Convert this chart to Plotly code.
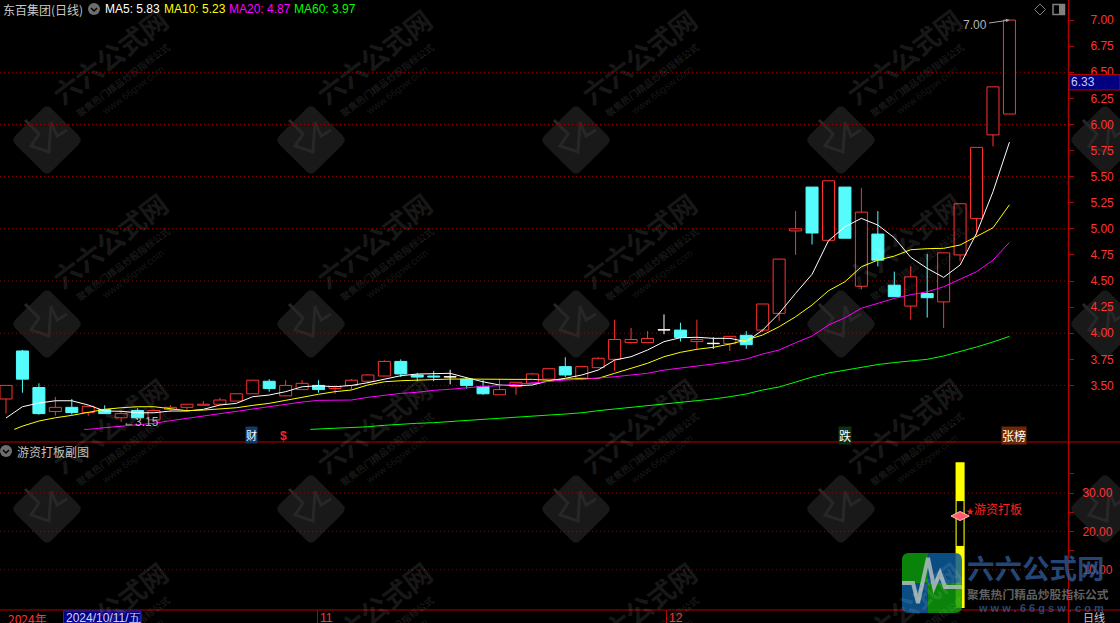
import plotly.graph_objects as go

W, H = 1120, 623

open_ = [3.37,3.83,3.48,3.25,3.29,3.24,3.27,3.19,3.26,3.17,3.27,3.29,3.31,3.32,3.35,3.42,3.54,3.40,3.46,3.50,3.47,3.50,3.54,3.59,3.73,3.60,3.59,3.58,3.56,3.49,3.41,3.49,3.52,3.56,3.68,3.57,3.67,3.75,3.91,3.91,4.03,4.03,3.92,3.90,3.90,3.98,4.03,4.19,4.98,5.40,4.89,5.40,4.45,4.95,4.46,4.26,4.38,4.30,4.75,5.10,5.90,6.10]
high_ = [3.50,3.84,3.52,3.39,3.37,3.30,3.31,3.26,3.28,3.27,3.31,3.32,3.35,3.38,3.42,3.55,3.56,3.55,3.55,3.55,3.50,3.56,3.61,3.74,3.75,3.62,3.64,3.65,3.58,3.55,3.56,3.53,3.62,3.66,3.77,3.68,3.77,4.13,4.05,4.02,4.18,4.10,4.13,3.96,3.97,4.02,4.28,4.71,5.17,5.40,5.46,5.40,5.39,5.17,4.59,4.64,4.76,4.77,5.24,5.78,6.36,7.00]
low_ = [3.23,3.43,3.22,3.21,3.22,3.21,3.23,3.15,3.17,3.17,3.25,3.26,3.31,3.31,3.35,3.42,3.44,3.40,3.46,3.43,3.42,3.46,3.52,3.59,3.58,3.54,3.54,3.51,3.47,3.41,3.41,3.41,3.52,3.56,3.58,3.55,3.67,3.64,3.90,3.91,3.99,3.92,3.85,3.85,3.83,3.85,4.01,4.12,4.75,4.85,4.89,4.91,4.42,4.64,4.35,4.13,4.15,4.05,4.69,4.94,5.79,6.10]
close_ = [3.50,3.56,3.23,3.29,3.24,3.30,3.23,3.23,3.19,3.26,3.29,3.32,3.32,3.36,3.42,3.55,3.47,3.50,3.52,3.46,3.49,3.55,3.60,3.73,3.61,3.58,3.58,3.58,3.50,3.42,3.46,3.53,3.61,3.66,3.60,3.68,3.76,3.94,3.94,3.95,4.03,3.96,3.94,3.90,3.97,3.89,4.28,4.71,5.00,4.96,5.46,4.91,5.16,4.70,4.35,4.54,4.34,4.77,5.24,5.78,6.36,7.00]

ma5 = [3.188,3.296,3.331,3.353,3.353,3.312,3.255,3.252,3.238,3.238,3.255,3.255,3.271,3.312,3.328,3.392,3.408,3.44,3.487,3.497,3.487,3.50,3.526,3.558,3.593,3.609,3.616,3.616,3.574,3.535,3.504,3.497,3.504,3.545,3.568,3.60,3.647,3.743,3.775,3.839,3.919,3.957,3.961,3.951,3.951,3.919,4.03,4.19,4.382,4.564,4.886,5.02,5.10,5.036,4.915,4.727,4.621,4.535,4.653,4.957,5.355,5.83]
ma10_x = [0.5] + list(range(1, 62))
ma10 = [3.079,3.11,3.159,3.19,3.213,3.242,3.271,3.286,3.296,3.296,3.274,3.258,3.264,3.274,3.286,3.309,3.328,3.357,3.389,3.415,3.44,3.456,3.504,3.535,3.545,3.552,3.558,3.561,3.561,3.558,3.558,3.558,3.558,3.549,3.561,3.561,3.568,3.616,3.664,3.712,3.775,3.817,3.846,3.865,3.896,3.935,3.983,4.062,4.158,4.27,4.407,4.493,4.637,4.70,4.739,4.80,4.81,4.813,4.845,4.925,5.01,5.23]
ma20_x = [4.75] + list(range(5, 62))
ma20 = [3.079,3.079,3.095,3.11,3.12,3.137,3.162,3.185,3.207,3.226,3.248,3.271,3.296,3.322,3.341,3.357,3.357,3.36,3.386,3.408,3.424,3.434,3.453,3.463,3.478,3.491,3.497,3.51,3.523,3.542,3.552,3.558,3.568,3.583,3.60,3.616,3.647,3.664,3.686,3.705,3.727,3.753,3.801,3.839,3.909,3.973,4.078,4.148,4.239,4.286,4.334,4.369,4.397,4.445,4.516,4.589,4.70,4.87]
ma60_x = [18.5] + list(range(19, 62))
ma60 = [3.079,3.082,3.089,3.098,3.104,3.118,3.13,3.137,3.143,3.152,3.159,3.175,3.185,3.194,3.20,3.216,3.226,3.238,3.258,3.274,3.293,3.303,3.319,3.338,3.353,3.37,3.392,3.418,3.456,3.485,3.532,3.58,3.619,3.647,3.676,3.70,3.719,3.734,3.75,3.782,3.823,3.868,3.916,3.97]

price_ticks = [3.5,3.75,4.0,4.25,4.5,4.75,5.0,5.25,5.5,5.75,6.0,6.25,6.5,6.75,7.0]
price_labels = ["3.50","3.75","4.00","4.25","4.50","4.75","5.00","5.25","5.50","5.75","6.00","6.25","6.50","6.75","7.00"]
grid_prices = [3.5,4.0,4.5,5.0,5.5,6.0,6.5]
sub_ticks = [10,15,20,25,30,35]
sub_labels = ["10.00","","20.00","","30.00",""]
sub_grid = [10,20,30]

signal_x = [58]
signal_top = [38.0]
signal_box_low = [16.2]
signal_box_high = [27.9]
gem_value = [24.0]

RED = "#ff3232"
CYAN = "#54fcfc"
WHITE = "#ffffff"
AX = "#b40000"
GRID = "#a00000"
MARK = "rgba(255,255,255,0.10)"
CJK = "Noto Sans CJK SC"
LAT = "Liberation Sans"

def px(x): return x / W
def py(y): return 1 - y / H
AX_X = 1068
SPLIT = 442
BOT = 610
X_RANGE = [-0.365, 64.56]

fig = go.Figure()

idx = list(range(len(close_)))
groups = {
    RED: [i for i in idx if close_[i] > open_[i]],
    CYAN: [i for i in idx if close_[i] < open_[i]],
    WHITE: [i for i in idx if close_[i] == open_[i]],
}
FILL = {RED: "#000000", CYAN: CYAN, WHITE: WHITE}

for col, ii in groups.items():
    fig.add_trace(go.Bar(
        x=ii,
        base=[min(open_[i], close_[i]) for i in ii],
        y=[max(abs(close_[i] - open_[i]), 0.004) for i in ii],
        width=0.73,
        marker=dict(color=FILL[col], line=dict(color=col, width=1)),
        xaxis="x", yaxis="y", hoverinfo="skip", showlegend=False))
    wx, wy = [], []
    for i in ii:
        top, bot = max(open_[i], close_[i]), min(open_[i], close_[i])
        if high_[i] > top:
            wx += [i, i, None]; wy += [top, high_[i], None]
        if low_[i] < bot:
            wx += [i, i, None]; wy += [bot, low_[i], None]
    fig.add_trace(go.Scatter(x=wx, y=wy, mode="lines", line=dict(color=col, width=1),
                             xaxis="x", yaxis="y", hoverinfo="skip", showlegend=False))

for xs, ys, col in [(idx, ma5, "#ffffff"), (ma10_x, ma10, "#ffff00"), (ma20_x, ma20, "#ff00ff"), (ma60_x, ma60, "#00ff00")]:
    fig.add_trace(go.Scatter(x=xs, y=ys, mode="lines", line=dict(color=col, width=1),
                             xaxis="x", yaxis="y", hoverinfo="skip", showlegend=False))

fig.add_trace(go.Bar(x=signal_x, y=signal_top, width=0.55, marker=dict(color="#ffff00", line=dict(width=0)),
                     xaxis="x2", yaxis="y2", hoverinfo="skip", showlegend=False))
fig.add_trace(go.Bar(x=signal_x, y=[signal_box_high[0] - signal_box_low[0]], base=signal_box_low, width=0.42,
                     marker=dict(color="#000000", line=dict(width=0)),
                     xaxis="x2", yaxis="y2", hoverinfo="skip", showlegend=False))
fig.add_trace(go.Scatter(x=signal_x, y=gem_value, mode="markers",
                         marker=dict(symbol="diamond-wide", size=13, color="#ff5a6e", line=dict(color="#ffc0c8", width=1)),
                         xaxis="x2", yaxis="y2", hoverinfo="skip", showlegend=False))

shapes = []

def poly_rounded(pts, t=0.13):
    d = ""
    n = len(pts)
    for i in range(n):
        c = pts[i]; a = pts[i - 1]; b = pts[(i + 1) % n]
        s = (c[0] + t * (a[0] - c[0]), c[1] + t * (a[1] - c[1]))
        e = (c[0] + t * (b[0] - c[0]), c[1] + t * (b[1] - c[1]))
        d += f"{'M' if i == 0 else 'L'}{px(s[0]):.5f},{py(s[1]):.5f} Q{px(c[0]):.5f},{py(c[1]):.5f} {px(e[0]):.5f},{py(e[1]):.5f} "
    return d + "Z"

def polyline(pts):
    return " ".join(f"{'M' if i == 0 else 'L'}{px(p[0]):.5f},{py(p[1]):.5f}" for i, p in enumerate(pts))

annotations = []

def text(x, y, s, color, size, anchor="left", family=CJK, **kw):
    annotations.append(dict(x=px(x), y=py(y), xref="paper", yref="paper", text=s, showarrow=False,
                            xanchor=anchor, yanchor="middle", font=dict(color=color, size=size, family=family),
                            borderpad=0, **kw))

# repeating watermark
for cy in (140, 324, 509, 693):
    for cx in (47, 311, 576, 841, 1105):
        if cy < 623:
            r = 36
            shapes.append(dict(type="path", path=poly_rounded([(cx, cy - r), (cx + r, cy), (cx, cy + r), (cx - r, cy)]),
                               xref="paper", yref="paper", fillcolor="#191919", line=dict(width=0), layer="below"))
            shapes.append(dict(type="path",
                               path=polyline([(cx - 22, cy - 20), (cx - 8, cy - 6), (cx - 16, cy + 6), (cx + 2, cy + 12),
                                              (cx + 4, cy - 18), (cx + 10, cy - 4), (cx + 20, cy - 10)]),
                               xref="paper", yref="paper", line=dict(color="#272727", width=3), layer="below"))
        if cx > 1000:
            continue
        for dx, dy, s, size, fam in ((62, -84, "<b>六六公式网</b>", 27, CJK),
                                     (76, -60, "<b>聚焦热门精品炒股指标公式</b>", 9.5, CJK),
                                     (85, -50, "www.66gsw.com", 10, LAT)):
            annotations.append(dict(x=px(cx + dx), y=py(cy + dy), xref="paper", yref="paper", text=s, showarrow=False,
                                    xanchor="center", yanchor="middle", textangle=-37,
                                    font=dict(color=MARK, size=size, family=fam)))

# dotted grid
for g in grid_prices:
    shapes.append(dict(type="line", xref="x", yref="y", x0=X_RANGE[0], x1=X_RANGE[1], y0=g, y1=g,
                       line=dict(color=GRID, width=1, dash="1px,3px"), layer="below"))
for g in sub_grid:
    shapes.append(dict(type="line", xref="x2", yref="y2", x0=X_RANGE[0], x1=X_RANGE[1] - 0.2, y0=g, y1=g,
                       line=dict(color=GRID, width=1, dash="1px,3px"), layer="below"))

# frame
shapes.append(dict(type="line", xref="paper", yref="paper", x0=0, x1=1, y0=py(SPLIT), y1=py(SPLIT), line=dict(color=AX, width=1.2)))
shapes.append(dict(type="line", xref="paper", yref="paper", x0=0, x1=1, y0=py(BOT), y1=py(BOT), line=dict(color=AX, width=1.2)))
shapes.append(dict(type="line", xref="paper", yref="paper", x0=px(AX_X + .5), x1=px(AX_X + .5), y0=0, y1=1, line=dict(color=AX, width=1.2)))
for x in (317.5, 666.5):
    shapes.append(dict(type="line", xref="paper", yref="paper", x0=px(x), x1=px(x), y0=0, y1=py(BOT), line=dict(color=AX, width=1)))

# current price box
shapes.append(dict(type="rect", xref="paper", yref="paper", x0=px(1069), x1=1, y0=py(90), y1=py(74.5),
                   fillcolor="#000080", line=dict(color=AX, width=1)))
# date box
shapes.append(dict(type="rect", xref="paper", yref="paper", x0=px(63.5), x1=px(141), y0=0, y1=py(611),
                   fillcolor="#000080", line=dict(color="#2020c0", width=1)))

# title icons
for cx, cy in ((94, 9), (6, 451)):
    shapes.append(dict(type="circle", xref="paper", yref="paper", x0=px(cx - 6), x1=px(cx + 6), y0=py(cy + 6), y1=py(cy - 6),
                       fillcolor="#6e6e6e", line=dict(width=0)))
    shapes.append(dict(type="path", path=polyline([(cx - 3, cy - 1), (cx, cy + 2), (cx + 3, cy - 1)]),
                       xref="paper", yref="paper", line=dict(color="#000000", width=1.5)))
shapes.append(dict(type="path", path=polyline([(1040, 4), (1045.5, 9.5), (1040, 15), (1034.5, 9.5), (1040, 4)]),
                   xref="paper", yref="paper", line=dict(color="#808080", width=1)))
shapes.append(dict(type="rect", xref="paper", yref="paper", x0=px(1053), x1=px(1064.5), y0=py(14.5), y1=py(4.5),
                   line=dict(color="#808080", width=1.5), fillcolor="#000000"))
shapes.append(dict(type="rect", xref="paper", yref="paper", x0=px(1059), x1=px(1064), y0=py(14), y1=py(5),
                   line=dict(width=0), fillcolor="#808080"))

# logo
lx0, lx1, ly0, ly1, lxm, lym = 902, 962, 553, 613, 928, 583
logo_op = 0.85
rc = 7
def quad(pts, col, corner):
    d = ""
    for i, p in enumerate(pts):
        if i == corner:
            a = pts[i - 1]; b = pts[(i + 1) % 4]
            def toward(q):
                sx = (q[0] > p[0]) - (q[0] < p[0]); sy = (q[1] > p[1]) - (q[1] < p[1])
                return (p[0] + sx * rc, p[1] + sy * rc)
            s, e = toward(a), toward(b)
            d += f"{'M' if i == 0 else 'L'}{px(s[0]):.5f},{py(s[1]):.5f} Q{px(p[0]):.5f},{py(p[1]):.5f} {px(e[0]):.5f},{py(e[1]):.5f} "
        else:
            d += f"{'M' if i == 0 else 'L'}{px(p[0]):.5f},{py(p[1]):.5f} "
    shapes.append(dict(type="path", xref="paper", yref="paper", path=d + "Z", fillcolor=col, line=dict(width=0), opacity=logo_op))
quad([(lx0, ly0), (lxm, ly0), (lxm, lym), (lx0, lym)], "#0a9a0a", 0)
quad([(lxm, ly0), (lx1, ly0), (lx1, lym), (lxm, lym)], "#0a5a9a", 1)
quad([(lx0, lym), (lxm, lym), (lxm, ly1), (lx0, ly1)], "#0a5a9a", 3)
quad([(lxm, lym), (lx1, lym), (lx1, ly1), (lxm, ly1)], "#0a9a0a", 2)
shapes.append(dict(type="path",
                   path=polyline([(lx0, 583), (913, 583), (918, 603), (928, 558), (934, 587), (940, 573), (945, 587), (lx1, 587)]),
                   xref="paper", yref="paper", line=dict(color="#a8b8b8", width=4), opacity=0.9))

# header
text(2, 9, "东百集团(日线)", "#c8c8c8", 12)
text(104, 9, "MA5: 5.83", "#ffffff", 12, family=LAT)
text(163, 9, "MA10: 5.23", "#ffff00", 12, family=LAT)
text(228, 9, "MA20: 4.87", "#ff00ff", 12, family=LAT)
text(293, 9, "MA60: 3.97", "#00ff00", 12, family=LAT)
text(16, 451, "游资打板副图", "#c0c0c0", 12)

# event tags
text(251.7, 435, "财", "#ffffff", 11, anchor="center", bgcolor="#123a6a")
text(283.5, 436, "<b>$</b>", "#ff2020", 12, anchor="center", family=LAT)
text(844.5, 435, "跌", "#ffffff", 12, anchor="center", bgcolor="#103010")
text(1014.5, 435, "张榜", "#ffffff", 12, anchor="center", bgcolor="#6e2a08")

# price flags
annotations.append(dict(x=7, y=3.15, xref="x", yref="y", text="←3.15", showarrow=False, xanchor="left",
                        font=dict(color="#b4b4b4", size=12, family=LAT)))
annotations.append(dict(x=61, y=7.0, xref="x", yref="y", text="7.00", showarrow=True, ax=-34, ay=5, axref="pixel", ayref="pixel",
                        arrowhead=2, arrowsize=0.7, arrowwidth=1, arrowcolor="#aaaaaa", font=dict(color="#b4b4b4", size=12, family=LAT)))
annotations.append(dict(x=58, y=26, xref="x2", yref="y2", text="<span style=\"font-size:8px\">★</span>游资打板", showarrow=False,
                        xanchor="left", xshift=4, font=dict(color="#ff2020", size=12, family=CJK)))

# current price and bottom strip
text(1070, 82, "6.33", "#c8c8ff", 12, family=LAT)
text(7, 618, "2024年", RED, 12)
text(64.5, 618, "2024/10/11/五", "#d0d0ff", 12, family=LAT)
text(319, 618, "11", RED, 12, family=LAT)
text(668, 618, "12", RED, 12, family=LAT)
text(1082, 617, "日线", "#c8c8c8", 11)

# logo text
BRAND = "rgba(47,90,150,0.8)"
text(966, 567, "<b>六六公式网</b>", BRAND, 27.5)
text(966, 593, "<b>聚焦热门精品炒股指标公式</b>", "rgba(110,110,110,0.9)", 11.8)
text(977, 608, "<b>w w w . 6 6 g s w . c o m</b>", BRAND, 11, family=LAT)

axis_x = dict(visible=False, range=X_RANGE, fixedrange=True, domain=[0, AX_X / W])

fig.update_layout(
    width=W, height=H, margin=dict(l=0, r=0, t=0, b=0),
    paper_bgcolor="#000000", plot_bgcolor="#000000",
    showlegend=False, barmode="overlay", hovermode=False,
    xaxis=dict(anchor="y", **axis_x),
    xaxis2=dict(anchor="y2", **axis_x),
    yaxis=dict(domain=[py(SPLIT), 1], range=[2.958, 7.192], side="right", anchor="x", tickmode="array",
               tickvals=price_ticks, ticktext=price_labels, ticks="outside", ticklen=5, tickcolor=AX,
               tickfont=dict(color=RED, size=12, family=LAT), ticklabelstandoff=14,
               showgrid=False, zeroline=False, showline=False),
    yaxis2=dict(domain=[py(BOT), py(SPLIT)], range=[-0.5, 43.3], side="right", anchor="x2", tickmode="array",
                tickvals=sub_ticks, ticktext=sub_labels, ticks="outside", ticklen=5, tickcolor=AX,
                tickfont=dict(color=RED, size=12, family=LAT), ticklabelstandoff=6,
                showgrid=False, zeroline=False, showline=False),
    shapes=shapes, annotations=annotations,
)

fig.write_html("out.html", config={"displayModeBar": False},
               post_script="document.body.style.margin='0';document.body.style.background='#000';document.body.style.overflow='hidden';")
